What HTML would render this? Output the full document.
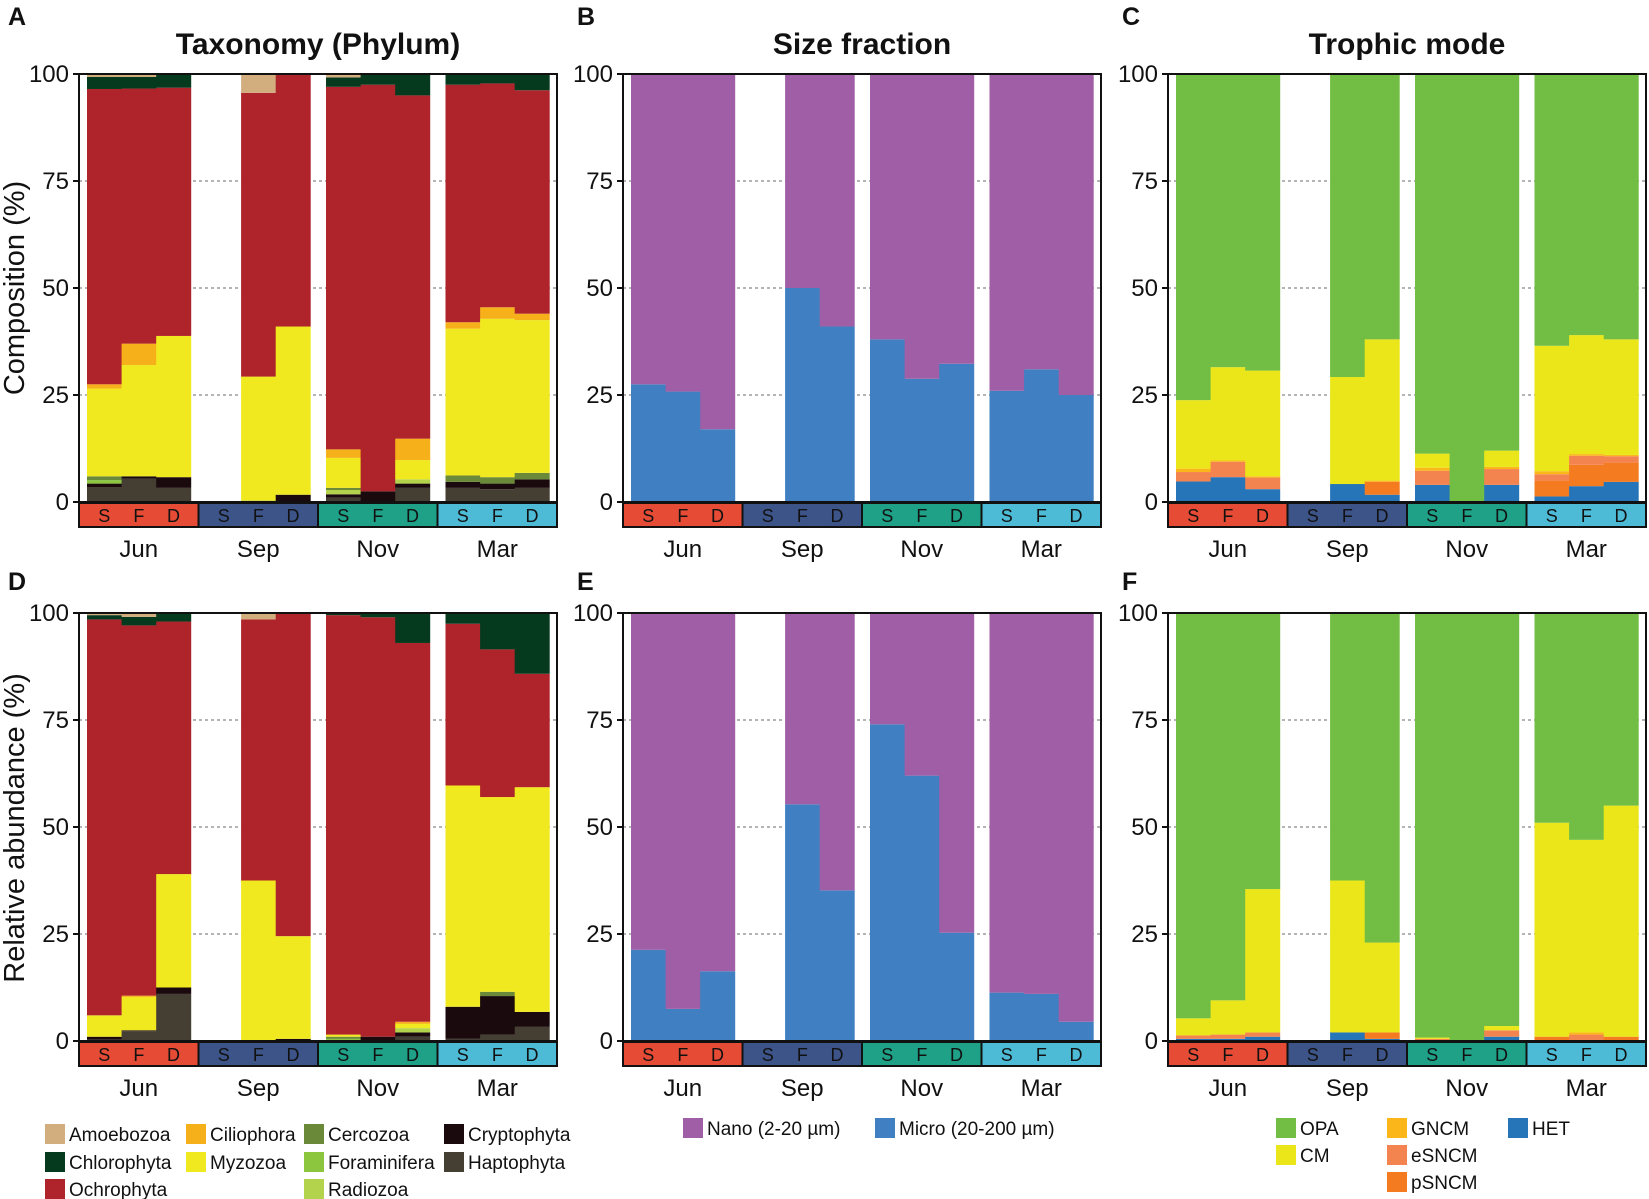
<!DOCTYPE html>
<html><head><meta charset="utf-8">
<style>
html,body{margin:0;padding:0;background:#fff;}
body{width:1649px;height:1199px;overflow:hidden;position:relative;font-family:"Liberation Sans",Arial,sans-serif;}
svg{position:absolute;left:0;top:0;}
</style></head>
<body>
<svg id="fig" width="1649" height="1199" viewBox="0 0 1649 1199" xmlns="http://www.w3.org/2000/svg" font-family="Liberation Sans, Arial, sans-serif"></svg>
<script>
// ---------- data ----------
const months = ["Jun","Sep","Nov","Mar"];
const fractions = ["S","F","D"];
const yTicks = [0,25,50,75,100];
const monthColors = ["#E64B35","#3C5488","#1FA187","#4DBBD5"];

const taxNames = ["Haptophyta","Cryptophyta","Radiozoa","Foraminifera","Cercozoa","Myzozoa","Ciliophora","Ochrophyta","Chlorophyta","Amoebozoa"];
const taxColors = ["#453F33","#1A0A0D","#B4D34C","#8CC63F","#6A8A39","#F1E920","#F6B11A","#AF232A","#053A1F","#D2AE7F"];
const compHapto = [3.5,5.5,3.3, null,0,0, 1,0,3.3, 3.3,3,3.3];
const compCrypto= [0.8,0.5,2.5, null,0,1.7, 0.8,2.5,1, 1.4,1.3,2];
const compRadio = [0,0,0, null,0,0, 1,0,1, 0,0,0];
const compForam = [0.8,0,0, null,0,0, 0,0,0, 0,0,0];
const compCerco = [0.9,0,0, null,0.3,0, 0.5,0,0, 1.5,1.5,1.5];
const compMyzo  = [20.5,26,33, null,29,39.3, 7,0,4.5, 34.3,37,35.7];
const compCilio = [1,5,0, null,0,0, 2,0,5, 1.5,2.7,1.5];
const compOchro = [69,59.6,58, null,66.3,59, 84.7,95,80.2, 55.5,52.3,52.2];
const compChloro= [2.8,2.7,3.2, null,0,0, 2.2,2.5,5, 2.5,2.2,3.8];
const compAmoeb = [0.7,0.7,0, null,4.4,0, 0.8,0,0, 0,0,0];
const abunHapto = [0.3,2.3,11, null,0,0, 0,0,1, 0.5,1.5,3.3];
const abunCrypto= [0.7,0.2,1.5, null,0,0.5, 0,1,1, 7.5,9,3.5];
const abunRadio = [0,0,0, null,0,0, 0,0,1, 0,0,0];
const abunForam = [0,0,0, null,0,0, 0.5,0,0, 0,0,0];
const abunCerco = [0,0,0, null,0,0, 0.5,0,0, 0,1,0];
const abunMyzo  = [5,7.8,26.5, null,37.5,24, 0.5,0,1, 51.7,45.5,52.5];
const abunCilio = [0,0.3,0, null,0,0, 0,0,0.5, 0,0,0];
const abunOchro = [92.5,86.5,59, null,61,75.5, 98,98,88.5, 37.8,34.5,26.5];
const abunChloro= [1,2,2, null,0,0, 0.5,1,7, 2.5,8.5,14.2];
const abunAmoeb = [0.5,0.9,0, null,1.5,0, 0,0,0, 0,0,0];

const sizeNames = ["Micro (20-200 µm)","Nano (2-20 µm)"];
const sizeColors = ["#4080C2","#A05EA6"];
const compMicro = [27.5,25.8,17, null,50,41, 38,28.8,32.3, 26,31,25];
const abunMicro = [21.3,7.5,16.3, null,55.3,35.2, 74,62,25.3, 11.3,11,4.5];

const trophNames = ["HET","pSNCM","eSNCM","GNCM","CM","OPA"];
const trophColors = ["#2775B9","#F47B20","#F3844F","#FBB61A","#EBE61A","#72BE44"];
const compHET  = [4.8,5.8,3, null,4.2,1.7, 4,0,4, 1.3,3.7,4.7];
const compPS   = [0,0,0, null,0,3, 0,0,0, 3.7,5,4.5];
const compES   = [2.2,3.6,2.7, null,0,0, 3.3,0,3.7, 1.5,2.1,1.5];
const compGN   = [0.8,0.3,0.3, null,0,0.3, 0.7,0,0.5, 0.7,0.4,0.3];
const compCM   = [16,21.8,24.7, null,25,33, 3.3,0,3.8, 29.3,27.8,27];
const abunHET  = [0.5,0.5,1, null,2,0.5, 0,0,1, 0,0,0];
const abunPS   = [0,0,0, null,0,1.5, 0,0,0, 1,0,1];
const abunES   = [0.8,1,1, null,0,0, 0.5,0,1.5, 0,1.5,0];
const abunGN   = [0,0,0, null,0,0, 0,0,0, 0,0.5,0];
const abunCM   = [4,8,33.5, null,35.5,21, 0.3,0,1, 50,45,54];

// ---------- drawing ----------
const NS="http://www.w3.org/2000/svg";
const svg=document.getElementById("fig");
function el(tag,attrs,parent){const e=document.createElementNS(NS,tag);for(const k in attrs)e.setAttribute(k,attrs[k]);(parent||svg).appendChild(e);return e;}
function txt(x,y,s,size,opts,parent){const t=el("text",Object.assign({x:x,y:y,"font-size":size,fill:"#111"},opts||{}),parent);t.textContent=s;return t;}

const panelLeft=[79,623,1168];
const letterX=[8,577,1122];
const plotW=478;
const rows=[{top:74,y0:502,letterY:25},{top:613,y0:1041,letterY:590}];
const grpW=plotW/4, barW=34.6, barOff=8;

function yScale(r,v){return r.y0-(r.y0-r.top)*v/100;}
function xBar(left,i){const g=Math.floor(i/3),j=i%3;return left+barOff+g*grpW+j*barW;}

function drawPanel(ci,r,seriesList,colors,label,panelName){
  const left=panelLeft[ci];
  const g=el("g",{});
  
  
  [25,50,75].forEach(v=>{
    const l=el("line",{x1:left,x2:left+plotW,y1:yScale(r,v),y2:yScale(r,v),stroke:"#888","stroke-width":1.2,"stroke-dasharray":"3,3"},g);
    
    
  });
  const n=seriesList[0].length;
  for(let i=0;i<n;i++){
    if(seriesList[0][i]===null)continue;
    let cum=0;
    seriesList.forEach((s,k)=>{
      const v=s[i]; if(!v) return;
      const y1=yScale(r,cum+v), y2=yScale(r,cum);
      const rc=el("rect",{x:xBar(left,i),y:y1,width:barW+0.4,height:y2-y1,fill:colors[k]},g);
      
      
      cum+=v;
    });
  }
  const fr=el("rect",{x:left,y:r.top,width:plotW,height:r.y0-r.top,fill:"none",stroke:"#111","stroke-width":2},g);
  
  
  yTicks.forEach(v=>{
    const y=yScale(r,v);
    el("line",{x1:left-6,x2:left,y1:y,y2:y,stroke:"#111","stroke-width":2},g);
    const t=txt(left-10,y+8,String(v),24,{"text-anchor":"end"},g);
    
    
  });
  months.forEach((m,gi)=>{
    const sx=left+gi*grpW;
    const sr=el("rect",{x:sx,y:r.y0+1,width:grpW,height:24,fill:monthColors[gi],stroke:"#111","stroke-width":2},g);
    
    
    fractions.forEach((f,j)=>{
      const t=txt(sx+barOff+j*barW+barW/2,r.y0+20,f,18,{"text-anchor":"middle"},g);
      
      
    });
    const mt=txt(sx+grpW/2,r.y0+55,m,24,{"text-anchor":"middle"},g);
    
    
  });
  const pl=txt(letterX[ci],r.letterY,label,25,{"font-weight":"bold"},g);
  
  
}

function nanoOf(a){return a.map(v=>v===null?null:100-v);}
function opaOf(arrs){return arrs[0].map((v,i)=>v===null?null:100-arrs.reduce((s,a)=>s+a[i],0));}

drawPanel(0,rows[0],[compHapto,compCrypto,compRadio,compForam,compCerco,compMyzo,compCilio,compOchro,compChloro,compAmoeb],taxColors,"A","panel-a-taxonomy");
drawPanel(1,rows[0],[compMicro,nanoOf(compMicro)],sizeColors,"B","panel-b-size");
drawPanel(2,rows[0],[compHET,compPS,compES,compGN,compCM,opaOf([compHET,compPS,compES,compGN,compCM])],trophColors,"C","panel-c-trophic");
drawPanel(0,rows[1],[abunHapto,abunCrypto,abunRadio,abunForam,abunCerco,abunMyzo,abunCilio,abunOchro,abunChloro,abunAmoeb],taxColors,"D","panel-d-taxonomy");
drawPanel(1,rows[1],[abunMicro,nanoOf(abunMicro)],sizeColors,"E","panel-e-size");
drawPanel(2,rows[1],[abunHET,abunPS,abunES,abunGN,abunCM,opaOf([abunHET,abunPS,abunES,abunGN,abunCM])],trophColors,"F","panel-f-trophic");

[["Taxonomy (Phylum)",0],["Size fraction",1],["Trophic mode",2]].forEach(([s,i])=>{
  const t=txt(panelLeft[i]+plotW/2,54,s,30,{"text-anchor":"middle","font-weight":"bold"});
  
  
});
const yt1=txt(0,0,"Composition (%)",29,{"text-anchor":"middle",transform:"translate(24,288) rotate(-90)"});


const yt2=txt(0,0,"Relative abundance (%)",29,{"text-anchor":"middle",transform:"translate(24,828) rotate(-90)"});



function legendItem(x,y,color,label){
  const g=el("g",{});
  
  
  el("rect",{x:x,y:y-10,width:20,height:20,fill:color},g);
  txt(x+24,y+7,label,19,{},g);
}
const taxLegend=[["Amoebozoa",45,1134],["Chlorophyta",45,1162],["Ochrophyta",45,1189],["Ciliophora",186,1134],["Myzozoa",186,1162],["Cercozoa",304,1134],["Foraminifera",304,1162],["Radiozoa",304,1189],["Cryptophyta",444,1134],["Haptophyta",444,1162]];
taxLegend.forEach(([n,x,y])=>legendItem(x,y,taxColors[taxNames.indexOf(n)],n));
legendItem(683,1128,sizeColors[1],"Nano (2-20 µm)");
legendItem(875,1128,sizeColors[0],"Micro (20-200 µm)");
const trLegend=[["OPA",1276,1128],["CM",1276,1155],["GNCM",1387,1128],["eSNCM",1387,1155],["pSNCM",1387,1182],["HET",1508,1128]];
trLegend.forEach(([n,x,y])=>legendItem(x,y,trophColors[trophNames.indexOf(n)],n));
</script>
</body></html>
